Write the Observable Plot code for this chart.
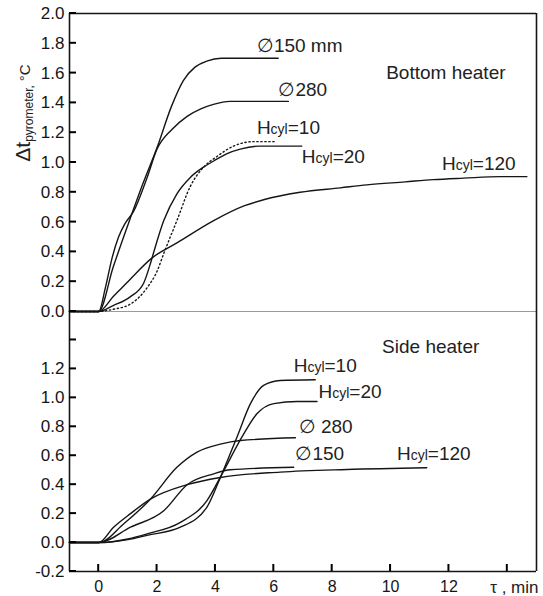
<!DOCTYPE html>
<html><head><meta charset="utf-8">
<script src="https://cdn.jsdelivr.net/npm/d3@7"></script>
<script src="https://cdn.jsdelivr.net/npm/@observablehq/plot@0.6"></script>
<style>
body{margin:0;background:#fff;}
#chart{width:543px;}
#chart svg{display:block;}
</style></head><body><div id="chart"></div>
<script>
// ---- Bottom heater panel (top) ----
const b150_t = [-1, 0, 0.5, 1.0, 1.5, 2.0, 2.5, 2.9, 3.3, 3.7, 4.2, 5.0, 6.15];
const b150_v = [0, 0, 0.30, 0.58, 0.85, 1.10, 1.38, 1.55, 1.64, 1.68, 1.70, 1.70, 1.70];
const b280_t = [-1, 0, 0.23, 0.46, 0.68, 0.9, 1.19, 1.66, 2.0, 2.5, 3.03, 3.5, 3.93, 4.5, 5.5, 6.5];
const b280_v = [0, 0, 0.16, 0.36, 0.50, 0.59, 0.67, 0.90, 1.09, 1.22, 1.31, 1.36, 1.39, 1.41, 1.41, 1.41];
const bH20_t = [-1, 0, 0.5, 1.09, 1.54, 1.77, 1.83, 2.23, 2.68, 3.14, 3.6, 3.94, 4.4, 4.85, 5.5, 6.96];
const bH20_v = [0, 0, 0.04, 0.10, 0.19, 0.32, 0.36, 0.61, 0.79, 0.90, 0.97, 1.01, 1.06, 1.09, 1.11, 1.11];
const bH10_t = [-1, 0, 0.5, 1.09, 1.66, 2.0, 2.23, 2.68, 3.14, 3.6, 4.05, 4.62, 5.3, 6.05];
const bH10_v = [0, 0, 0.015, 0.05, 0.16, 0.27, 0.39, 0.61, 0.84, 0.97, 1.04, 1.11, 1.14, 1.14];
const bH120_t = [-1, 0, 0.5, 1.0, 1.83, 2.68, 3.94, 5.0, 5.65, 6.9, 8.28, 9.19, 10.5, 11.46, 12.5, 13.76, 14.67];
const bH120_v = [0, 0, 0.10, 0.20, 0.36, 0.46, 0.61, 0.71, 0.75, 0.80, 0.83, 0.85, 0.87, 0.885, 0.895, 0.905, 0.905];

// ---- Side heater panel (bottom) ----
const sH10_t = [-1, 0, 1.0, 1.66, 2.8, 3.71, 4.17, 4.74, 5.2, 5.65, 6.22, 7.42];
const sH10_v = [0, 0, 0.02, 0.05, 0.106, 0.245, 0.45, 0.73, 0.96, 1.086, 1.12, 1.125];
const sH20_t = [-1, 0, 1.0, 1.66, 2.8, 3.71, 4.23, 4.91, 5.42, 6.0, 6.8, 7.48];
const sH20_v = [0, 0, 0.025, 0.06, 0.14, 0.29, 0.475, 0.73, 0.89, 0.96, 0.975, 0.975];
const s280_t = [-1, 0, 0.86, 1.77, 2.68, 3.37, 4.17, 4.85, 6.74];
const s280_v = [0, 0, 0.13, 0.30, 0.52, 0.625, 0.68, 0.705, 0.724];
const s150_t = [-1, 0, 1.09, 2.23, 3.03, 3.94, 4.51, 6.68];
const s150_v = [0, 0, 0.106, 0.22, 0.40, 0.475, 0.503, 0.52];
const sH120_t = [-1, 0, 0.51, 1.09, 1.77, 3.03, 4.17, 6.22, 8.5, 11.24];
const sH120_v = [0, 0, 0.106, 0.20, 0.30, 0.40, 0.45, 0.487, 0.505, 0.517];

// ---- ticks ----
const xTicks = [0, 2, 4, 6, 8, 10, 12, 14];
const xTickLabels = [0, 2, 4, 6, 8, 10, 12];
const topYTicks = [0, 0.2, 0.4, 0.6, 0.8, 1.0, 1.2, 1.4, 1.6, 1.8, 2.0];
const botYTicks = [-0.2, 0, 0.2, 0.4, 0.6, 0.8, 1.0, 1.2];
const botYAllTicks = [-0.2, 0, 0.2, 0.4, 0.6, 0.8, 1.0, 1.2, 1.4];

// ---- annotations ----
const topLabelText = ["∅150 mm", "∅280", "Hcyl=10", "Hcyl=20", "Hcyl=120", "Bottom heater"];
const topLabelX = [5.42, 6.16, 5.42, 6.96, 11.76, 9.85];
const topLabelY = [1.785, 1.49, 1.23, 1.04, 0.99, 1.60];
const botLabelText = ["Side heater", "Hcyl=10", "Hcyl=20", "∅ 280", "∅150", "Hcyl=120"];
const botLabelX = [9.71, 6.68, 7.53, 6.85, 6.74, 10.22];
const botLabelY = [1.355, 1.22, 1.04, 0.80, 0.61, 0.61];

const rows = (name, t, v) => t.map((x, i) => ({series: name, t: x, v: v[i]}));
const labels = (txt, xs, ys) => txt.map((s, i) => ({text: s, x: xs[i], y: ys[i]}));

const topSolid = [
  ...rows("150", b150_t, b150_v), ...rows("280", b280_t, b280_v),
  ...rows("H20", bH20_t, bH20_v), ...rows("H120", bH120_t, bH120_v)
];
const topDotted = rows("H10", bH10_t, bH10_v);
const botSolid = [
  ...rows("H10", sH10_t, sH10_v), ...rows("H20", sH20_t, sH20_v),
  ...rows("280", s280_t, s280_v), ...rows("150", s150_t, s150_v),
  ...rows("H120", sH120_t, sH120_v)
];

const font = "'Liberation Sans', Arial, Helvetica, sans-serif";
const ink = "#151515";
const fmt = d => d.toFixed(1);
const xDomain = [-1, 15];
const TICK = 7;
const common = {
  width: 543, marginLeft: 69, marginRight: 7,
  style: {fontFamily: font, fontSize: "17px", color: ink, background: "white"}
};

const topPlot = Plot.plot({
  ...common, height: 325, marginTop: 13, marginBottom: 0,
  x: {domain: xDomain, axis: null},
  y: {domain: [-0.094, 2]},
  marks: [
    Plot.ruleY([0], {stroke: "#9a9a9a", strokeWidth: 1.2}),
    Plot.line(topSolid, {x: "t", y: "v", z: "series", curve: "monotone-x", stroke: ink, strokeWidth: 1.4}),
    Plot.line(topDotted, {x: "t", y: "v", curve: "monotone-x", stroke: ink, strokeWidth: 1.4, strokeDasharray: "1.3,2.7"}),
    Plot.axisY(topYTicks, {tickSize: 0, tickPadding: 5, tickFormat: fmt, label: null, fontSize: 17}),
    Plot.ruleX(xDomain, {stroke: ink, strokeWidth: 1.6}),
    Plot.ruleY([2], {stroke: ink, strokeWidth: 1.6}),
    Plot.text(labels(topLabelText, topLabelX, topLabelY), {x: "x", y: "y", text: "text", textAnchor: "start", fontSize: 19, fill: "#222"})
  ]
});

const botPlot = Plot.plot({
  ...common, height: 271, marginTop: 0, marginBottom: 25,
  x: {domain: xDomain},
  y: {domain: [-0.2, 1.5]},
  marks: [
    Plot.line(botSolid, {x: "t", y: "v", z: "series", curve: "monotone-x", stroke: ink, strokeWidth: 1.4}),
    Plot.axisY(botYTicks, {tickSize: 0, tickPadding: 5, tickFormat: fmt, label: null, fontSize: 17}),
    Plot.axisX(xTickLabels, {tickSize: 0, tickPadding: 9, tickFormat: d => String(d), label: null, fontSize: 16}),
    Plot.ruleX(xDomain, {stroke: ink, strokeWidth: 1.6}),
    Plot.ruleY([-0.2], {stroke: ink, strokeWidth: 1.6}),
    Plot.text(labels(botLabelText, botLabelX, botLabelY), {x: "x", y: "y", text: "text", textAnchor: "start", fontSize: 19, fill: "#222"}),
    Plot.text(["τ , min"], {frameAnchor: "bottom-right", textAnchor: "end", lineAnchor: "top", dx: 2, dy: 9, fontSize: 17, fill: "#222"})
  ]
});

// inward tick marks, placed through the plots' own scales
function yTicksIn(plot, values) {
  const xs = plot.scale("x"), ys = plot.scale("y");
  const x0 = xs.apply(xDomain[0]);
  d3.select(plot).append("g").attr("stroke", "#000").attr("stroke-width", 2)
    .selectAll("line").data(values).join("line")
    .attr("x1", x0).attr("x2", x0 + TICK)
    .attr("y1", d => ys.apply(d)).attr("y2", d => ys.apply(d));
}
function xTicksIn(plot, values, yBase) {
  const xs = plot.scale("x"), ys = plot.scale("y");
  const y0 = ys.apply(yBase);
  d3.select(plot).append("g").attr("stroke", "#000").attr("stroke-width", 2)
    .selectAll("line").data(values).join("line")
    .attr("x1", d => xs.apply(d)).attr("x2", d => xs.apply(d))
    .attr("y1", y0).attr("y2", y0 - TICK);
}
yTicksIn(topPlot, topYTicks);
yTicksIn(botPlot, botYAllTicks);
xTicksIn(botPlot, xTicks, -0.2);

// H with subscript "cyl"
function subscriptCyl(svg) {
  d3.select(svg).selectAll("text").each(function() {
    const el = d3.select(this);
    if (el.selectAll("tspan").size() === 0) {
      const s = el.text();
      if (s.startsWith("Hcyl")) {
        el.text("");
        el.append("tspan").text("H");
        el.append("tspan").attr("font-size", 14).text("cyl");
        el.append("tspan").text(s.slice(4));
      }
    }
  });
}
subscriptCyl(topPlot);
subscriptCyl(botPlot);

// y-axis title
const yt = d3.select(topPlot).append("text")
  .attr("transform", "translate(30,113) rotate(-90)")
  .attr("font-family", font).attr("fill", "#222");
yt.append("tspan").attr("font-size", 21).text("Δt");
yt.append("tspan").attr("font-size", 12).attr("dy", 3).text("pyrometer,");
yt.append("tspan").attr("font-size", 15).attr("dy", -3).attr("dx", 4).text("°C");

document.getElementById("chart").append(topPlot, botPlot);
</script>
</body></html>
